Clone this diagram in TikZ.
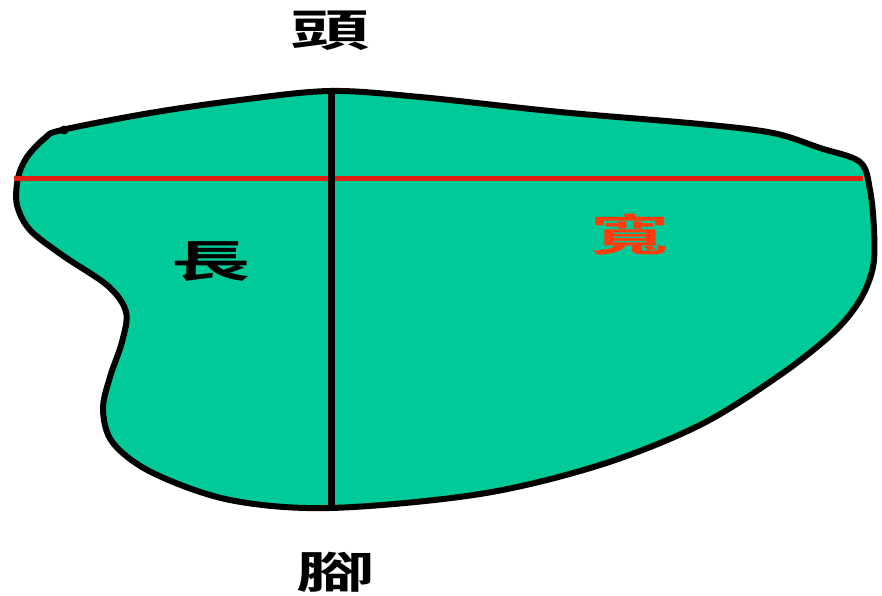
\documentclass[tikz,border=0pt]{standalone}
\usepackage{fontspec}
\newfontfamily\cjk{Noto Sans CJK TC}[BoldFont={* Bold}]
\definecolor{blobfill}{RGB}{0,202,152}
\definecolor{redline}{RGB}{225,30,20}
\definecolor{widthtext}{RGB}{255,60,10}
\begin{document}
\begin{tikzpicture}[x=1pt,y=-1pt,
  outline/.style={draw=black,line width=6pt,fill=blobfill,line join=round},
  axisline/.style={draw=black,line width=7pt},
  widthline/.style={draw=redline,line width=5pt},
  label/.style={font=\cjk\bfseries\fontsize{44}{44}\selectfont,inner sep=0pt,xscale=1.8}]
\useasboundingbox (0,0) rectangle (882,596);
\path[outline] plot[smooth cycle,tension=0.55] coordinates {
  (62,130) (150,113) (240,100) (330,91) (420,97) (560,112) (700,124) (773,133)
  (820,148) (860,162) (870,190) (874,230) (873,267) (860,300) (833,333)
  (780,375) (700,425) (600,465) (480,494) (330,508) (230,500) (153,473)
  (113,443) (103,410) (110,377) (122,342) (126,312) (108,286) (62,255)
  (30,230) (17,205) (18,178) (27,157) (45,138)};
\fill (64,130) circle (4.5);
\coordinate (top) at (331,90);
\coordinate (bottom) at (331,509);
\coordinate (left) at (14,178);
\coordinate (right) at (863,178);
\path[widthline] (left) -- (right);
\path[axisline] (top) -- (bottom);
\node[label] (head) at (330,31) {頭};
\node[label] (foot) at (336,572) {腳};
\node[label] (length) at (211,262) {長};
\node[label,text=widthtext] (width) at (630,235) {寬};
\end{tikzpicture}
\end{document}
